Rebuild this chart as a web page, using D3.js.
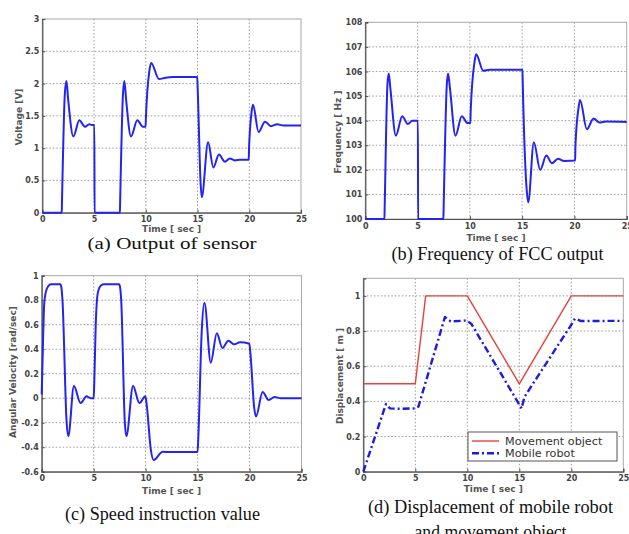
<!DOCTYPE html>
<html><head><meta charset="utf-8">
<script src="https://cdn.jsdelivr.net/npm/d3@7"></script>
<style>body{margin:0;background:#fff} svg{display:block}</style>
</head><body>
<svg id="chart" width="629" height="534"></svg>
<script>
// ---------- data ----------
const timeTicks = [0, 5, 10, 15, 20, 25];
const voltageTicks = [0, 0.5, 1, 1.5, 2, 2.5, 3];
const frequencyTicks = [100, 101, 102, 103, 104, 105, 106, 107, 108];
const velocityTicks = [-0.6, -0.4, -0.2, 0, 0.2, 0.4, 0.6, 0.8, 1];
const displacementTicks = [0, 0.2, 0.4, 0.6, 0.8, 1];

// (a) output of sensor [time s, voltage V]
const sensorVoltage = [
  [0,0],[1.88,0],[1.9,0.15],[2.18,1.85],[2.33,2.04],[2.5,1.75],[3.0,1.18],[3.58,1.43],[4.12,1.33],[4.54,1.37],[4.8,1.36],[5.03,1.36],[5.05,0],
  [7.5,0],[7.52,0.15],[7.8,1.85],[7.93,2.04],[8.1,1.75],[8.57,1.18],[9.18,1.43],[9.72,1.33],[9.98,1.33],[10.02,1.5],[10.35,2.2],[10.52,2.32],
  [11.28,2.07],[11.9,2.09],[12.6,2.1],[14.97,2.1],[15.02,1.9],[15.3,0.45],[15.41,0.24],[16.02,1.09],[16.53,0.70],[17.07,0.90],[17.65,0.79],
  [18.13,0.84],[18.6,0.81],[19.1,0.82],[19.95,0.82],[19.98,1.0],[20.22,1.55],[20.36,1.67],[20.9,1.25],[21.52,1.41],[22.1,1.34],[22.7,1.37],
  [23.3,1.35],[25,1.35]
];
// (b) frequency of FCC output [time s, Hz]
const fccFrequency = [
  [0,100],[1.83,100],[1.85,100.4],[2.12,105.5],[2.24,105.92],[2.4,105.3],[2.92,103.39],[3.53,104.18],[4.07,103.86],[4.49,104.0],[5.03,104.0],[5.05,100],
  [7.47,100],[7.49,100.4],[7.8,105.5],[7.92,105.92],[8.1,105.3],[8.62,103.39],[9.23,104.18],[9.78,103.9],[10.05,103.9],[10.08,104.4],[10.45,106.4],
  [10.6,106.7],[11.28,106.03],[11.9,106.07],[15.03,106.07],[15.06,105.5],[15.45,101.1],[15.58,100.68],[16.12,103.12],[16.73,102.0],[17.31,102.58],
  [17.85,102.27],[18.43,102.45],[19.0,102.36],[20.07,102.38],[20.1,103.0],[20.42,104.6],[20.54,104.84],[21.19,103.65],[21.83,104.09],[22.4,103.92],
  [23.0,103.97],[25,103.95]
];
// (c) speed instruction value [time s, rad/sec]
const angularVelocity = [
  [0,0.03],[0.08,0.3],[0.25,0.78],[0.5,0.895],[0.9,0.93],[1.8,0.93],[1.9,0.9],[2.0,0.8],[2.4,-0.2],[2.56,-0.31],[3.1,0.10],[3.74,-0.04],[4.32,0.015],
  [4.7,0.0],[5.0,0.0],[5.05,0.1],[5.2,0.6],[5.4,0.86],[5.7,0.92],[6.0,0.93],[7.45,0.93],[7.55,0.9],[7.65,0.8],[8.0,-0.2],[8.15,-0.31],[8.79,0.10],
  [9.4,-0.04],[9.97,0.015],[10.1,-0.05],[10.5,-0.42],[10.77,-0.505],[11.64,-0.437],[12.3,-0.44],[15.0,-0.44],[15.08,-0.3],[15.4,0.55],[15.66,0.78],
  [16.27,0.29],[16.85,0.53],[17.39,0.41],[17.97,0.47],[18.5,0.44],[19.09,0.456],[19.98,0.445],[20.1,0.35],[20.45,-0.08],[20.62,-0.15],[21.26,0.05],
  [21.84,-0.015],[22.41,0.01],[23.0,0],[25,0]
];
// (d) displacement [time s, m]
const movementObject = [[0,0.5],[5,0.5],[6,1.0],[10,1.0],[15,0.5],[20,1.0],[25,1.0]];
const mobileRobot = [
  [0,0],[2.18,0.385],[2.56,0.36],[3.5,0.358],[4.97,0.36],[5.3,0.37],[7.85,0.88],[8.4,0.855],[9.95,0.86],[10.4,0.84],
  [15.22,0.36],[15.5,0.426],[19.87,0.824],[20.35,0.87],[20.96,0.857],[25,0.858]
];
const legendLabels = ["Movement object", "Mobile robot"];

// ---------- layout ----------
const svg = d3.select("#chart");
const BLUE = "#2323f2", RED = "#e5423c";

const panels = [
  {x:[42.3,301], y:[212.7,19], yDomain:[0,3], yTicks:voltageTicks, yLabel:"Voltage [V]", ylx:19, yly:117, tOff:18.8,
   series:[{data:sensorVoltage, color:BLUE, width:2, curve:d3.curveMonotoneX}],
   captions:[{text:"(a) Output of sensor", x:172, y:249, len:169, fs:17}]},
  {x:[365.3,626.7], y:[219,22.3], yDomain:[100,108], yTicks:frequencyTicks, yLabel:"Frequency [ Hz ]", ylx:338, yly:132, tOff:21.5,
   series:[{data:fccFrequency, color:BLUE, width:2, curve:d3.curveMonotoneX}],
   captions:[{text:"(b) Frequency of FCC output", x:497.5, y:259.5, len:212, fs:18}]},
  {x:[41.7,301.5], y:[471.7,275.7], yDomain:[-0.6,1], yTicks:velocityTicks, yLabel:"Angular Velocity [rad/sec]", ylx:12.5, yly:372, tOff:22.5,
   series:[{data:angularVelocity, color:BLUE, width:2, curve:d3.curveMonotoneX}],
   captions:[{text:"(c) Speed instruction value", x:162.5, y:520, len:195, fs:18}]},
  {x:[363.3,623.3], y:[471.7,278.3], yDomain:[0,1.1], yTicks:displacementTicks, yLabel:"Displacement [ m ]", ylx:340, yly:376, tOff:20.5,
   series:[{data:movementObject, color:RED, width:1.4, curve:d3.curveLinear},
           {data:mobileRobot, color:"#1c1ce0", width:2.4, curve:d3.curveLinear, dash:"7,3,2,3"}],
   captions:[{text:"(d) Displacement of mobile robot", x:490.5, y:512.5, len:245, fs:18},
             {text:"and movement object", x:490.5, y:538, len:152, fs:18}],
   legend:true}
];

panels.forEach(p => {
  const xs = d3.scaleLinear().domain([0,25]).range(p.x);
  const ys = d3.scaleLinear().domain(p.yDomain).range(p.y);
  const g = svg.append("g");
  const [l, r] = p.x, [b, t] = p.y;

  // grid
  g.selectAll(".gx").data(timeTicks.filter(d => d > 0 && d < 25)).join("line")
    .attr("x1", d => xs(d)).attr("x2", d => xs(d)).attr("y1", t).attr("y2", b)
    .attr("stroke", "#9a9a9a").attr("stroke-width", 1).attr("stroke-dasharray", "1.5,2");
  g.selectAll(".gy").data(p.yTicks.filter(d => d > p.yDomain[0] && d < p.yDomain[1])).join("line")
    .attr("x1", l).attr("x2", r).attr("y1", d => ys(d)).attr("y2", d => ys(d))
    .attr("stroke", "#9a9a9a").attr("stroke-width", 1).attr("stroke-dasharray", "1.5,2");

  // frame
  g.append("rect").attr("x", l).attr("y", t).attr("width", r - l).attr("height", b - t)
    .attr("fill", "none").attr("stroke", "#a8a8a8").attr("stroke-width", 1);

  // axes
  const ax = g.append("g").attr("transform", `translate(0,${b})`)
    .call(d3.axisBottom(xs).tickValues(timeTicks).tickSize(-3).tickPadding(4).tickFormat(d => String(d)));
  const ay = g.append("g").attr("transform", `translate(${l},0)`)
    .call(d3.axisLeft(ys).tickValues(p.yTicks).tickSize(-3).tickPadding(3).tickFormat(d => String(d)));
  [ax, ay].forEach(a => {
    a.select(".domain").attr("stroke", "#505050").attr("stroke-width", 1.2);
    a.selectAll(".tick line").attr("stroke", "#505050");
    a.selectAll("text").attr("font-family", "DejaVu Sans").attr("font-weight", "bold")
      .attr("font-size", 8).attr("fill", "#444");
  });

  // series
  p.series.forEach(s => {
    const line = d3.line().x(d => xs(d[0])).y(d => ys(d[1])).curve(s.curve);
    g.append("path").attr("d", line(s.data)).attr("fill", "none")
      .attr("stroke", s.color).attr("stroke-width", s.width)
      .attr("stroke-linejoin", "round")
      .attr("stroke-dasharray", s.dash || null);
  });

  // axis titles
  g.append("text").attr("x", (l + r) / 2).attr("y", b + p.tOff).attr("text-anchor", "middle")
    .attr("font-family", "DejaVu Sans").attr("font-weight", "bold").attr("font-size", 9)
    .attr("fill", "#555").text("Time [ sec ]");
  g.append("text").attr("transform", `translate(${p.ylx},${p.yly}) rotate(-90)`)
    .attr("text-anchor", "middle").attr("dy", "0.35em")
    .attr("font-family", "DejaVu Sans").attr("font-weight", "bold").attr("font-size", 9)
    .attr("fill", "#555").text(p.yLabel);

  // legend
  if (p.legend) {
    const lg = g.append("g");
    lg.append("rect").attr("x", 468).attr("y", 432).attr("width", 149).attr("height", 29)
      .attr("fill", "#fff").attr("stroke", "#555").attr("stroke-width", 1);
    const rows = [{c: RED, w: 1.4, dash: null}, {c: "#1c1ce0", w: 2.4, dash: "7,3,2,3"}];
    legendLabels.forEach((lab, i) => {
      const yy = 441 + i * 12.3;
      lg.append("line").attr("x1", 472).attr("x2", 499).attr("y1", yy).attr("y2", yy)
        .attr("stroke", rows[i].c).attr("stroke-width", rows[i].w).attr("stroke-dasharray", rows[i].dash);
      lg.append("text").attr("x", 505).attr("y", yy).attr("dy", "0.36em")
        .attr("font-family", "DejaVu Sans").attr("font-size", 11.2).attr("fill", "#333").text(lab);
    });
  }

  // captions
  p.captions.forEach(c => {
    svg.append("text").attr("x", c.x).attr("y", c.y).attr("text-anchor", "middle")
      .attr("font-family", "Liberation Serif").attr("font-size", c.fs).attr("fill", "#111")
      .attr("textLength", c.len).attr("lengthAdjust", "spacingAndGlyphs").text(c.text);
  });
});
</script>
</body></html>
